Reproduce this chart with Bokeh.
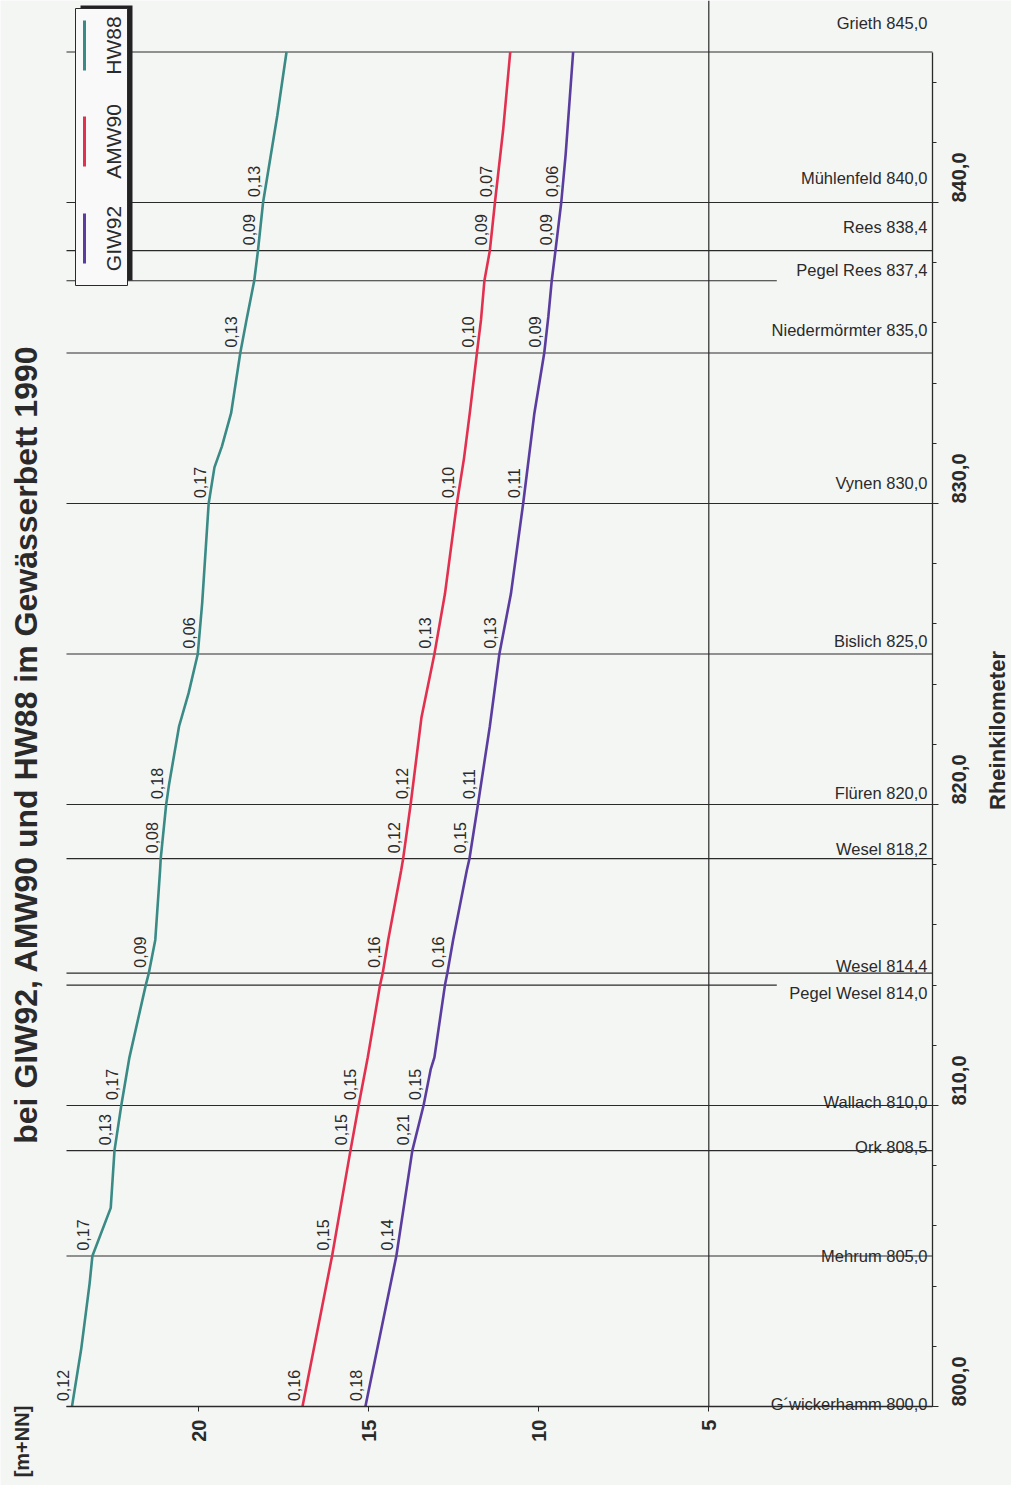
import math
import numpy as np
from bokeh.plotting import figure
from bokeh.models import (ColumnDataSource, Range1d, FixedTicker,
                          CustomJSTickFormatter)
from bokeh.core.properties import value
from bokeh.embed import file_html
from bokeh.resources import INLINE

# ---------------- data ----------------
HW88_KM = [800.0, 801.9, 804.1, 805.0, 806.6, 808.5, 810.0, 811.6, 814.0, 814.4,
           815.5, 817.8, 818.2, 820.0, 820.7, 822.6, 823.7, 825.0, 826.7, 830.0,
           831.2, 831.9, 833.0, 835.0, 836.2, 837.4, 838.4, 840.0, 842.9, 845.0]
HW88_WL = [23.73, 23.46, 23.21, 23.13, 22.59, 22.48, 22.28, 22.04, 21.56, 21.47,
           21.28, 21.14, 21.12, 20.96, 20.87, 20.58, 20.30, 20.03, 19.90, 19.71,
           19.54, 19.32, 19.05, 18.78, 18.58, 18.37, 18.26, 18.11, 17.69, 17.42]

AMW90_KM = [800.0, 805.0, 808.5, 810.0, 811.6, 814.0, 814.4, 815.5, 817.8, 818.2,
            820.0, 822.9, 825.0, 827.0, 830.0, 831.5, 833.0, 835.0, 836.1, 837.4,
            838.4, 840.0, 842.4, 845.0]
AMW90_WL = [16.95, 16.08, 15.54, 15.30, 15.03, 14.67, 14.59, 14.43, 14.05, 13.99,
            13.77, 13.45, 13.07, 12.76, 12.41, 12.20, 12.03, 11.82, 11.70, 11.60,
            11.44, 11.29, 11.05, 10.84]

GIW92_KM = [800.0, 805.0, 808.5, 810.0, 811.2, 811.6, 814.0, 814.4, 815.5, 817.8,
            818.2, 820.0, 822.6, 825.0, 827.0, 830.0, 833.0, 835.0, 836.2, 837.4,
            838.4, 840.0, 841.6, 845.0]
GIW92_WL = [15.10, 14.19, 13.72, 13.39, 13.18, 13.07, 12.76, 12.69, 12.52, 12.12,
            12.04, 11.79, 11.44, 11.16, 10.82, 10.46, 10.13, 9.84, 9.72, 9.62,
            9.51, 9.34, 9.21, 8.99]

STATION_NAMES = ["G´wickerhamm", "Mehrum", "Ork", "Wallach", "Pegel Wesel", "Wesel",
                 "Wesel", "Flüren", "Bislich", "Vynen", "Niedermörmter", "Pegel Rees",
                 "Rees", "Mühlenfeld", "Grieth"]
STATION_KM = [800.0, 805.0, 808.5, 810.0, 814.0, 814.4, 818.2, 820.0, 825.0, 830.0,
              835.0, 837.4, 838.4, 840.0, 845.0]
STATION_GAUGE = [False, False, False, False, True, False, False, False, False, False,
                 False, True, False, False, False]

SEG_START_KM = [800.0, 805.0, 808.5, 810.0, 814.4, 818.2, 820.0, 825.0, 830.0, 835.0,
                838.4, 840.0]
HW88_GRAD = ["0,12", "0,17", "0,13", "0,17", "0,09", "0,08", "0,18", "0,06", "0,17",
             "0,13", "0,09", "0,13"]
AMW90_GRAD = ["0,16", "0,15", "0,15", "0,15", "0,16", "0,12", "0,12", "0,13", "0,10",
              "0,10", "0,09", "0,07"]
GIW92_GRAD = ["0,18", "0,14", "0,21", "0,15", "0,16", "0,15", "0,11", "0,13", "0,11",
              "0,09", "0,09", "0,06"]

KM_TICKS = [800, 810, 820, 830, 840]
KM_MINOR_TICKS = list(range(800, 846, 2))
WL_TICKS = [20, 15, 10, 5]
WL_GRID = [5]

TITLE = "bei GIW92, AMW90 und HW88 im Gewässerbett 1990"
Y_LABEL = "[m+NN]"
X_LABEL = "Rheinkilometer"

COLORS = {"HW88": "#3a8a85", "AMW90": "#e2304f", "GIW92": "#5a3d9e"}
SERIES = [("HW88", HW88_KM, HW88_WL, HW88_GRAD),
          ("AMW90", AMW90_KM, AMW90_WL, AMW90_GRAD),
          ("GIW92", GIW92_KM, GIW92_WL, GIW92_GRAD)]

# ---------------- layout / style ----------------
W, H = 1011, 1485
AX_L, AX_R, AX_B = 66, 932, 1406          # plot box edges in px
PX_PER_M = 34.0
PX_PER_KM = 30.1
X_AT_20 = 198.3


def v(px):   # screen x -> water level
    return 20.0 - (px - X_AT_20) / PX_PER_M


def k(py):   # screen y -> km
    return 800.0 + (AX_B - py) / PX_PER_KM


X_LEFT, X_RIGHT = v(AX_L), v(AX_R)
KM_MIN, KM_MAX = 800.0, 845.0
GAUGE_LINE_END = 3.0
LABEL_KM_SHIFT = [0.07, 0.0, 0.13, 0.13, -0.27, 0.23, 0.33, 0.37, 0.43, 0.67,
                  0.76, 0.37, 0.80, 0.80, 0.96]
GRAD_DKM = 0.18

BG = "#f4f6f4"
INK = "#2a2a2a"
FONT = "Liberation Sans"

p = figure(width=W, height=H, title=None,
           x_range=Range1d(v(0), v(W)), y_range=Range1d(k(H), k(0)),
           x_axis_location="below", y_axis_location="right",
           output_backend="svg", toolbar_location=None,
           min_border=0, min_border_left=0, min_border_right=0,
           min_border_top=0, min_border_bottom=0)
p.background_fill_color = BG
p.border_fill_color = BG
p.outline_line_color = None
p.xgrid.grid_line_color = None
p.ygrid.grid_line_color = None

# bottom axis (water level), fixed at km 800
xa = p.xaxis[0]
xa.fixed_location = KM_MIN
xa.bounds = (X_RIGHT, X_LEFT)
xa.ticker = FixedTicker(ticks=WL_TICKS, minor_ticks=[])
xa.major_label_orientation = math.pi / 2
xa.major_tick_out = 5
xa.major_tick_in = 0
xa.minor_tick_line_color = None
xa.axis_line_color = INK
xa.axis_line_width = 1.3
xa.major_tick_line_color = INK
xa.major_label_text_font = FONT
xa.major_label_text_font_style = "bold"
xa.major_label_text_font_size = "20px"
xa.major_label_text_color = INK
xa.major_label_standoff = 8

# right axis (km), fixed at the right edge of the plot box
ya = p.yaxis[0]
ya.fixed_location = X_RIGHT
ya.bounds = (KM_MIN, KM_MAX)
ya.ticker = FixedTicker(ticks=KM_TICKS, minor_ticks=KM_MINOR_TICKS)
ya.formatter = CustomJSTickFormatter(code="return tick.toFixed(1).replace('.', ',')")
ya.major_label_orientation = math.pi / 2
ya.major_tick_out = 6
ya.major_tick_in = 0
ya.minor_tick_out = 4
ya.minor_tick_in = 0
ya.axis_line_color = INK
ya.axis_line_width = 1.3
ya.major_tick_line_color = INK
ya.minor_tick_line_color = INK
ya.major_label_text_font = FONT
ya.major_label_text_font_style = "bold"
ya.major_label_text_font_size = "20px"
ya.major_label_text_color = INK
ya.major_label_standoff = 20

# 5 m grid line (from the bottom axis to the top of the page)
p.segment(x0=WL_GRID, y0=[KM_MIN] * len(WL_GRID), x1=WL_GRID, y1=[k(0)] * len(WL_GRID),
          line_color=INK, line_width=1.2)

# station lines
x1 = [GAUGE_LINE_END if g else X_RIGHT for g in STATION_GAUGE]
st_src = ColumnDataSource(dict(x0=[X_LEFT] * len(STATION_KM), x1=x1, y=STATION_KM))
p.segment(x0="x0", y0="y", x1="x1", y1="y", source=st_src,
          line_color=INK, line_width=1.2)

# station labels
lab_txt = [f"{n} {km:.1f}".replace(".", ",") for n, km in zip(STATION_NAMES, STATION_KM)]
lab_y = [km + d for km, d in zip(STATION_KM, LABEL_KM_SHIFT)]
p.text(x=[X_RIGHT] * len(STATION_KM), y=lab_y, text=lab_txt, x_offset=-5,
       text_align="right", text_baseline="middle",
       text_font=value(FONT), text_font_size="16.5px", text_color=INK)

# curves and gradient labels
for name, km, wl, grad in SERIES:
    p.line(x=wl, y=km, line_color=COLORS[name], line_width=2.6)
    gx = np.interp(SEG_START_KM, km, wl)
    gy = [s + GRAD_DKM for s in SEG_START_KM]
    p.text(x=list(gx), y=gy, text=grad, angle=math.pi / 2,
           text_align="left", text_baseline="bottom", x_offset=-3,
           text_font=value(FONT), text_font_size="16px", text_color=INK)

# legend (drawn manually, rotated like the page)
p.quad(left=[v(80)], right=[v(132)], top=[k(5)], bottom=[k(280)],
       fill_color="#222222", line_color=None)
p.quad(left=[v(75)], right=[v(127)], top=[k(8)], bottom=[k(285)],
       fill_color="#f8f9f8", line_color=INK, line_width=1)
LEG_ROWS = [("HW88", 45), ("AMW90", 141), ("GIW92", 238)]
for lname, cy in LEG_ROWS:
    p.segment(x0=[v(84)], y0=[k(cy + 25)], x1=[v(84)], y1=[k(cy - 25)],
              line_color=COLORS[lname], line_width=3)
    p.text(x=[v(113)], y=[k(cy)], text=[lname], angle=math.pi / 2,
           text_align="center", text_baseline="middle",
           text_font=value(FONT), text_font_size="21px", text_color=INK)

# title and axis names
p.text(x=[v(25)], y=[k(744)], text=[TITLE], angle=math.pi / 2,
       text_align="center", text_baseline="middle",
       text_font=value(FONT), text_font_style="bold", text_font_size="32px",
       text_color=INK)
p.text(x=[v(21)], y=[k(1441)], text=[Y_LABEL], angle=math.pi / 2,
       text_align="center", text_baseline="middle",
       text_font=value(FONT), text_font_style="bold", text_font_size="20px",
       text_color=INK)
p.text(x=[v(997)], y=[k(730)], text=[X_LABEL], angle=math.pi / 2,
       text_align="center", text_baseline="middle",
       text_font=value(FONT), text_font_style="bold", text_font_size="22px",
       text_color=INK)

open("out.html", "w").write(file_html(p, INLINE))
